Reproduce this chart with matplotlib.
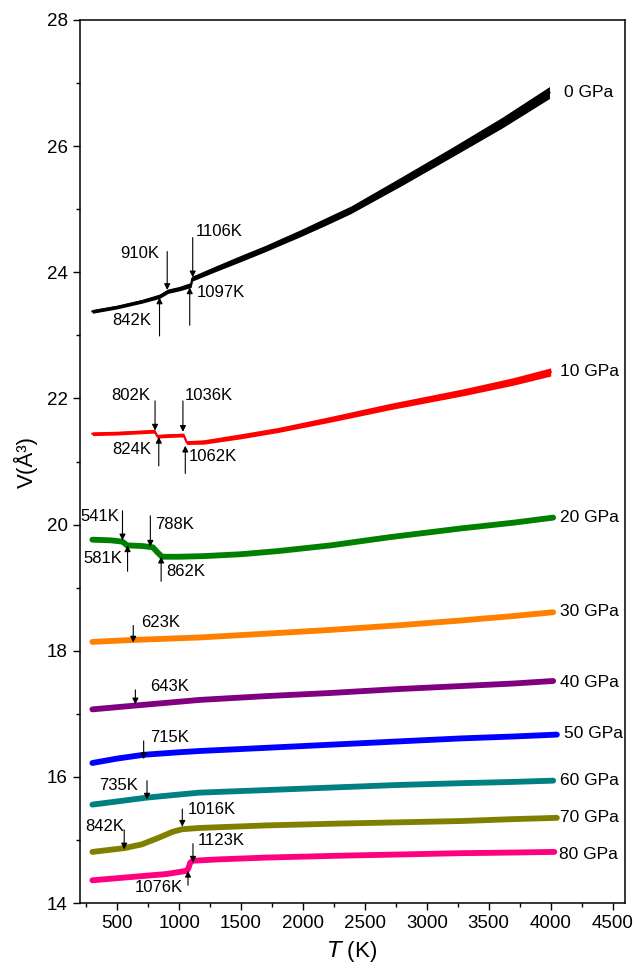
import numpy as np
import matplotlib
matplotlib.use('Agg')
import matplotlib.pyplot as plt
from matplotlib.ticker import MultipleLocator

plt.rcParams['font.family'] = ['Liberation Sans', 'DejaVu Sans']

# volume vs temperature
T0 = [300, 500, 700, 842, 910, 1000, 1097, 1106, 1300, 1500, 1700, 1980, 2190, 2386, 2793, 3199, 3606, 3990]
V0 = [23.38, 23.45, 23.54, 23.62, 23.70, 23.74, 23.80, 23.90, 24.06, 24.22, 24.38, 24.62, 24.81, 24.99, 25.44, 25.90, 26.37, 26.85]
W0 = [0.03, 0.03, 0.03, 0.035, 0.035, 0.035, 0.04, 0.04, 0.045, 0.05, 0.05, 0.055, 0.06, 0.06, 0.07, 0.075, 0.085, 0.095]

T10 = [300, 500, 700, 802, 824, 900, 1036, 1062, 1200, 1500, 1800, 2200, 2700, 3300, 3700, 4000]
V10 = [21.44, 21.45, 21.47, 21.48, 21.40, 21.41, 21.42, 21.30, 21.31, 21.40, 21.50, 21.66, 21.87, 22.10, 22.27, 22.42]
W10 = [0.03, 0.03, 0.03, 0.03, 0.03, 0.03, 0.03, 0.03, 0.035, 0.04, 0.04, 0.045, 0.05, 0.055, 0.06, 0.065]

T20 = [300, 450, 541, 581, 700, 788, 830, 862, 1000, 1200, 1500, 1800, 2224, 2700, 3280, 3700, 4020]
V20 = [19.76, 19.75, 19.73, 19.67, 19.66, 19.64, 19.55, 19.49, 19.49, 19.50, 19.53, 19.58, 19.67, 19.80, 19.94, 20.03, 20.11]

T30 = [300, 623, 1167, 1700, 2224, 2750, 3280, 3700, 4020]
V30 = [18.14, 18.17, 18.21, 18.27, 18.33, 18.40, 18.48, 18.55, 18.61]

T40 = [300, 643, 1167, 1700, 2224, 2750, 3280, 3700, 4020]
V40 = [17.07, 17.13, 17.22, 17.28, 17.33, 17.39, 17.44, 17.48, 17.52]

T50 = [300, 500, 715, 1000, 1167, 1700, 2224, 2750, 3280, 3700, 4050]
V50 = [16.22, 16.29, 16.35, 16.39, 16.41, 16.46, 16.51, 16.56, 16.61, 16.64, 16.67]

T60 = [300, 500, 735, 1000, 1167, 1700, 2224, 2750, 3280, 3700, 4020]
V60 = [15.56, 15.61, 15.67, 15.72, 15.75, 15.79, 15.83, 15.87, 15.90, 15.92, 15.94]

T70 = [300, 557, 700, 842, 950, 1026, 1167, 1700, 2300, 2800, 3280, 3700, 4050]
V70 = [14.81, 14.87, 14.93, 15.04, 15.13, 15.17, 15.19, 15.23, 15.26, 15.28, 15.30, 15.33, 15.35]

T80 = [300, 600, 900, 1060, 1075, 1090, 1112, 1300, 1700, 2300, 2800, 3280, 3700, 4030]
V80 = [14.36, 14.41, 14.46, 14.51, 14.55, 14.64, 14.67, 14.69, 14.72, 14.75, 14.77, 14.79, 14.80, 14.81]

pressures = ['0 GPa', '10 GPa', '20 GPa', '30 GPa', '40 GPa', '50 GPa', '60 GPa', '70 GPa', '80 GPa']
colors = ['black', '#FF0000', '#008000', '#FF8000', '#800080', '#0000FF', '#008080', '#808000', '#FF0080']

# transition markers: label, arrow x, arrow tail y, arrow tip y, text x, text y, alignment
marks = [
    ('910K', 904, 24.33, 23.72, 841, 24.30, 'right'),
    ('1106K', 1110, 24.55, 23.92, 1134, 24.65, 'left'),
    ('842K', 842, 22.99, 23.60, 776, 23.24, 'right'),
    ('1097K', 1086, 23.16, 23.76, 1142, 23.68, 'left'),
    ('802K', 806, 21.96, 21.49, 768, 22.04, 'right'),
    ('1036K', 1031, 21.96, 21.47, 1045, 22.04, 'left'),
    ('824K', 836, 20.93, 21.39, 776, 21.19, 'right'),
    ('1062K', 1050, 20.81, 21.25, 1077, 21.08, 'left'),
    ('541K', 543, 20.22, 19.75, 516, 20.13, 'right'),
    ('788K', 768, 20.14, 19.65, 809, 20.00, 'left'),
    ('581K', 584, 19.26, 19.67, 541, 19.46, 'right'),
    ('862K', 855, 19.10, 19.49, 898, 19.26, 'left'),
    ('623K', 630, 18.40, 18.13, 695, 18.45, 'left'),
    ('643K', 647, 17.38, 17.15, 768, 17.44, 'left'),
    ('715K', 714, 16.57, 16.28, 768, 16.62, 'left'),
    ('735K', 741, 15.94, 15.64, 671, 15.87, 'right'),
    ('1016K', 1026, 15.49, 15.21, 1069, 15.49, 'left'),
    ('842K', 557, 15.16, 14.85, 557, 15.21, 'right'),
    ('1123K', 1112, 14.94, 14.64, 1150, 14.99, 'left'),
    ('1076K', 1072, 14.28, 14.51, 1028, 14.25, 'right'),
]

# pressure label positions (x, y)
lab_x = [4107, 4077, 4077, 4077, 4077, 4107, 4077, 4077, 4070]
lab_y = [26.85, 22.42, 20.11, 18.62, 17.49, 16.68, 15.94, 15.35, 14.77]

fig = plt.figure(figsize=(6.35, 9.68), dpi=100)
ax = fig.add_axes([80/635, 1-903/968, 545/635, 883/968])

# black and red: noisy bands that widen with T
for T, V, W, c in [(T0, V0, W0, colors[0]), (T10, V10, W10, colors[1])]:
    T = np.array(T); V = np.array(V); W = np.array(W)
    ax.fill_between(T, V - W, V + W, color=c, lw=0)
    ax.plot(T, V, color=c, lw=1.5)

series = [(T20, V20), (T30, V30), (T40, V40), (T50, V50), (T60, V60), (T70, V70), (T80, V80)]
for (T, V), c in zip(series, colors[2:]):
    ax.plot(T, V, color=c, lw=4.2, solid_capstyle='round')

for i, p in enumerate(pressures):
    ax.text(lab_x[i], lab_y[i], p, fontsize=12.5, ha='left', va='center')

for lab, x, y0, y1, tx, ty, ha in marks:
    ax.annotate('', xy=(x, y1), xytext=(x, y0),
                arrowprops=dict(arrowstyle='-|>', color='black', lw=0.8, mutation_scale=9,
                                shrinkA=0, shrinkB=0))
    ax.text(tx, ty, lab, fontsize=12, ha=ha, va='center')

ax.set_xlim(200, 4600)
ax.set_ylim(14, 28)
ax.xaxis.set_major_locator(MultipleLocator(500))
ax.xaxis.set_minor_locator(MultipleLocator(250))
ax.yaxis.set_major_locator(MultipleLocator(2))
ax.yaxis.set_minor_locator(MultipleLocator(1))
ax.tick_params(which='major', direction='out', length=5, width=1, labelsize=13.5, pad=4)
ax.tick_params(which='minor', direction='out', length=3, width=1)
for s in ax.spines.values():
    s.set_linewidth(1.1)

ax.set_xlabel('$\\it{T}$ (K)', fontsize=16, labelpad=5)
ax.set_ylabel('V(Å³)', fontsize=16, labelpad=6)

fig.savefig('out.png', dpi=100)
